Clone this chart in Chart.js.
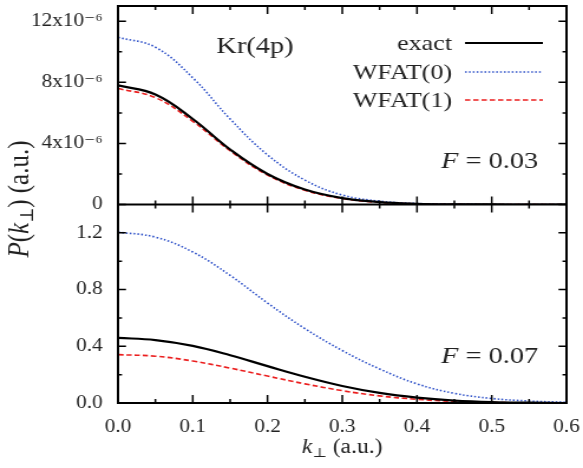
<!DOCTYPE html>
<html>
<head>
<meta charset="utf-8">
<script src="https://cdn.jsdelivr.net/npm/chart.js@4.4.1/dist/chart.umd.min.js"></script>
<style>
  html, body { margin: 0; padding: 0; background: #fff; }
</style>
</head>
<body>
<canvas id="chart" width="494" height="468" style="width:583px;height:468px;"></canvas>
<script>
// transverse momentum grid, a.u.
var kPerp = [0, 0.05, 0.1, 0.15, 0.2, 0.25, 0.3, 0.35, 0.4, 0.45, 0.5, 0.55, 0.6];

// F = 0.03 (upper panel)
var exact03 = [7.8e-6, 7.2e-6, 5.6e-6, 3.6e-6, 2.0e-6, 0.98e-6, 0.42e-6, 0.16e-6, 0.05e-6, 0.012e-6, 0.002e-6, 0, 0];
var wfat0_03 = [10.95e-6, 10.3e-6, 8.3e-6, 5.6e-6, 3.25e-6, 1.6e-6, 0.62e-6, 0.22e-6, 0.065e-6, 0.015e-6, 0.003e-6, 0, 0];
var wfat1_03 = [7.6e-6, 7.0e-6, 5.45e-6, 3.52e-6, 1.93e-6, 0.93e-6, 0.39e-6, 0.14e-6, 0.045e-6, 0.01e-6, 0.002e-6, 0, 0];

// F = 0.07 (lower panel)
var exact07 = [0.459, 0.444, 0.403, 0.337, 0.26, 0.185, 0.12, 0.071, 0.038, 0.017, 0.006, 0.002, 0];
var wfat0_07 = [1.205, 1.17, 1.065, 0.9, 0.705, 0.525, 0.37, 0.24, 0.135, 0.068, 0.032, 0.014, 0.005];
var wfat1_07 = [0.341, 0.33, 0.296, 0.246, 0.19, 0.135, 0.087, 0.05, 0.026, 0.011, 0.004, 0.001, 0];

// axis ticks
var xTicks = [0, 0.1, 0.2, 0.3, 0.4, 0.5, 0.6];
var yTopTicks = [0, 4e-6, 8e-6, 12e-6];
var yBotTicks = [0, 0.4, 0.8, 1.2];

var serif = '"Liberation Serif", "DejaVu Serif", serif';
var SX = 583 / 494; // picture is stretched sideways

function pts(ys) {
  return kPerp.map(function (k, i) { return { x: k, y: ys[i] }; });
}

function line(label, ys, axis, color, width, dash) {
  return {
    label: label,
    data: pts(ys),
    yAxisID: axis,
    borderColor: color,
    borderWidth: width,
    borderDash: dash,
    pointRadius: 0,
    fill: false,
    tension: 0.4
  };
}

function midpoints(arr) {
  var out = [];
  for (var i = 0; i < arr.length - 1; i++) out.push((arr[i] + arr[i + 1]) / 2);
  return out;
}

// text made of pieces with different fonts
function drawRuns(ctx, runs, x, y, align) {
  var total = 0;
  runs.forEach(function (r) { ctx.font = r.font; total += ctx.measureText(r.t).width; });
  var cx = align === 'center' ? x - total / 2 : (align === 'right' ? x - total : x);
  runs.forEach(function (r) {
    ctx.font = r.font;
    ctx.fillText(r.t, cx, y + (r.dy || 0));
    cx += ctx.measureText(r.t).width;
  });
}

var BLUE = 'rgb(45,80,200)';
var RED = 'rgb(235,30,30)';

var datasets = [
  line('exact', exact03, 'yTop', '#000', 2.2, []),
  line('WFAT(0)', wfat0_03, 'yTop', BLUE, 1.6, [1.5, 1.8]),
  line('WFAT(1)', wfat1_03, 'yTop', RED, 1.6, [4.5, 2.5]),
  line('exact', exact07, 'yBot', '#000', 2.2, []),
  line('WFAT(0)', wfat0_07, 'yBot', BLUE, 1.6, [1.5, 1.8]),
  line('WFAT(1)', wfat1_07, 'yBot', RED, 1.6, [4.5, 2.5])
];

var framePlugin = {
  id: 'frame',
  afterDraw: function (chart) {
    var ctx = chart.ctx, a = chart.chartArea;
    var x = chart.scales.x, yT = chart.scales.yTop, yB = chart.scales.yBot;
    var mid = yT.bottom;
    var L = 8, l = 4, Lh = 8 / SX, lh = 4 / SX;
    ctx.save();
    ctx.strokeStyle = '#000';
    ctx.lineWidth = 2;
    ctx.strokeRect(a.left, a.top, a.right - a.left, a.bottom - a.top);
    ctx.beginPath();
    ctx.moveTo(a.left, mid); ctx.lineTo(a.right, mid);
    ctx.stroke();

    ctx.lineWidth = 1.5;
    ctx.beginPath();
    function vt(v, len) {
      var px = x.getPixelForValue(v);
      ctx.moveTo(px, a.bottom); ctx.lineTo(px, a.bottom - len);
      ctx.moveTo(px, mid - len); ctx.lineTo(px, mid + len);
      ctx.moveTo(px, a.top); ctx.lineTo(px, a.top + len);
    }
    xTicks.forEach(function (v) { vt(v, L); });
    midpoints(xTicks).forEach(function (v) { vt(v, l); });
    function ht(scale, v, len) {
      var py = scale.getPixelForValue(v);
      ctx.moveTo(a.left, py); ctx.lineTo(a.left + len, py);
      ctx.moveTo(a.right, py); ctx.lineTo(a.right - len, py);
    }
    yTopTicks.forEach(function (v) { ht(yT, v, Lh); });
    midpoints(yTopTicks).forEach(function (v) { ht(yT, v, lh); });
    yBotTicks.forEach(function (v) { ht(yB, v, Lh); });
    midpoints(yBotTicks).forEach(function (v) { ht(yB, v, lh); });
    ctx.stroke();

    ctx.fillStyle = '#222';
    ctx.textBaseline = 'alphabetic';

    // legend
    var legY = [43, 72, 100];
    var legX0 = 394, legX1 = 460;
    for (var i = 0; i < 3; i++) {
      var ds = chart.data.datasets[i];
      ctx.font = '22px ' + serif;
      ctx.textAlign = 'right';
      ctx.fillText(ds.label, 383, legY[i] + 7);
      ctx.strokeStyle = ds.borderColor;
      ctx.lineWidth = ds.borderWidth;
      ctx.setLineDash(ds.borderDash);
      ctx.beginPath();
      ctx.moveTo(legX0, legY[i]); ctx.lineTo(legX1, legY[i]);
      ctx.stroke();
      ctx.setLineDash([]);
    }

    // labels inside panels
    ctx.font = '24px ' + serif;
    ctx.textAlign = 'center';
    ctx.fillText('Kr(4p)', 216, 53);
    ctx.textAlign = 'left';
    var it = 'italic 24px ' + serif, rm = '24px ' + serif;
    drawRuns(ctx, [{ t: 'F', font: it }, { t: ' = 0.03', font: rm }], 456, 168, 'right');
    drawRuns(ctx, [{ t: 'F', font: it }, { t: ' = 0.07', font: rm }], 456, 363, 'right');

    // axis titles
    var it20 = 'italic 20px ' + serif, rm20 = '20px ' + serif, sub = '13px "DejaVu Serif", serif';
    drawRuns(ctx, [{ t: 'k', font: it20 }, { t: '\u22A5', font: sub, dy: 4 }, { t: ' (a.u.)', font: rm20 }],
      (a.left + a.right) / 2, 453, 'center');

    ctx.save();
    ctx.translate(24, 199);
    ctx.rotate(-Math.PI / 2);
    var it24 = 'italic 25px ' + serif, rm24 = '25px ' + serif, sub24 = '16px "DejaVu Serif", serif';
    drawRuns(ctx, [{ t: 'P', font: it24 }, { t: '(', font: rm24 }, { t: 'k', font: it24 },
      { t: '\u22A5', font: sub24, dy: 4 }, { t: ') (a.u.)', font: rm24 }], 0, 0, 'center');
    ctx.restore();

    ctx.restore();
  }
};

var tickFont = { family: serif, size: 18 };

function noPadY(s) {
  s.width = 100;
  s.paddingTop = 0;
  s.paddingBottom = 0;
}

var ctx = document.getElementById('chart').getContext('2d');
var chart = new Chart(ctx, {
  type: 'line',
  data: { datasets: datasets },
  options: {
    responsive: false,
    animation: false,
    events: [],
    layout: { padding: { top: 6, right: 14, left: 0, bottom: 0 } },
    plugins: { legend: { display: false }, tooltip: { enabled: false } },
    scales: {
      x: {
        type: 'linear', position: 'bottom', min: 0, max: 0.6,
        grid: { display: false, drawTicks: false }, border: { display: false },
        afterBuildTicks: function (s) { s.ticks = xTicks.map(function (v) { return { value: v }; }); },
        afterFit: function (s) { s.height = 65; s.paddingLeft = 0; s.paddingRight = 0; },
        ticks: { font: tickFont, color: '#222', padding: 13, maxRotation: 0,
          callback: function (v) { return v.toFixed(1); } }
      },
      yBot: {
        type: 'linear', position: 'left', stack: 'panels', stackWeight: 1, min: 0, max: 1.4,
        grid: { display: false, drawTicks: false }, border: { display: false },
        afterBuildTicks: function (s) { s.ticks = yBotTicks.map(function (v) { return { value: v }; }); },
        afterFit: noPadY,
        ticks: { font: tickFont, color: '#222', padding: 13,
          callback: function (v) { return v.toFixed(1); } }
      },
      yTop: {
        type: 'linear', position: 'left', stack: 'panels', stackWeight: 1, min: 0, max: 13e-6,
        grid: { display: false, drawTicks: false }, border: { display: false },
        afterBuildTicks: function (s) { s.ticks = yTopTicks.map(function (v) { return { value: v }; }); },
        afterFit: noPadY,
        ticks: { font: tickFont, color: '#222', padding: 13,
          callback: function (v) { return v === 0 ? '0' : Math.round(v * 1e6) + 'x10\u207B\u2076'; } }
      }
    }
  },
  plugins: [framePlugin]
});
</script>
</body>
</html>
